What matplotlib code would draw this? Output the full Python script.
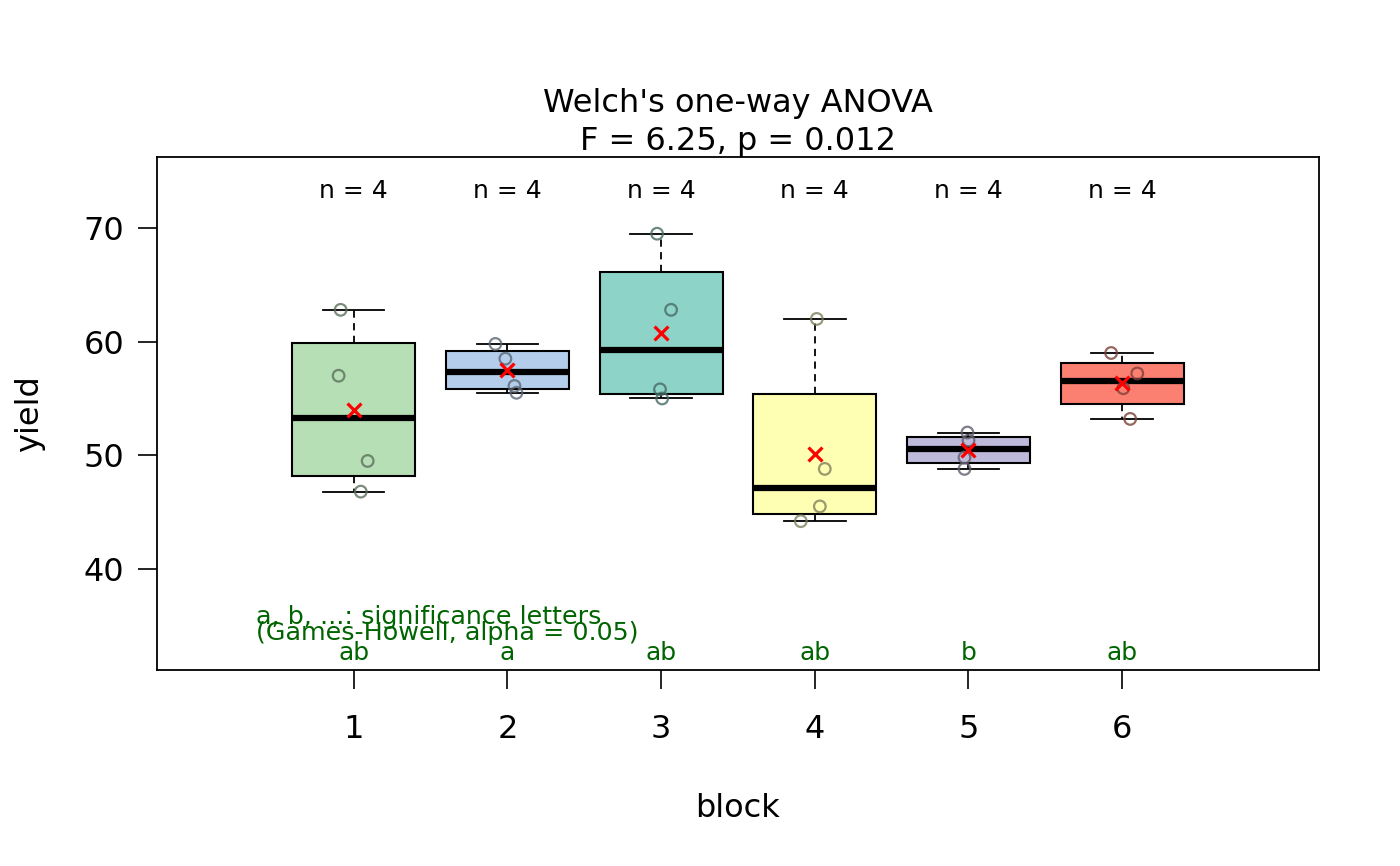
import numpy as np
import matplotlib
matplotlib.use("Agg")
import matplotlib.pyplot as plt
from matplotlib.colors import to_rgb

# data
blocks = ["1", "2", "3", "4", "5", "6"]
yield_1 = [62.8, 57.0, 49.5, 46.8]
yield_2 = [59.8, 58.5, 56.1, 55.5]
yield_3 = [69.5, 62.8, 55.8, 55.0]
yield_4 = [62.0, 48.8, 45.5, 44.2]
yield_5 = [52.0, 51.3, 49.8, 48.8]
yield_6 = [59.0, 57.2, 55.9, 53.2]
jitter = [[-0.085, -0.098, 0.091, 0.046],
          [-0.078, -0.013, 0.046, 0.059],
          [-0.026, 0.065, -0.007, 0.007],
          [0.013, 0.065, 0.033, -0.091],
          [-0.007, 0.000, -0.026, -0.026],
          [-0.072, 0.098, 0.007, 0.052]]
letters = ["ab", "a", "ab", "ab", "b", "ab"]
box_colors = ["#B6DFB6", "#B3CDEB", "#8DD3C7", "#FFFFB3", "#BEBADA", "#FB8072"]

groups = [yield_1, yield_2, yield_3, yield_4, yield_5, yield_6]


def fivenum(v):
    v = np.sort(np.asarray(v, float))
    n = len(v)
    n4 = np.floor((n + 3) / 2) / 2
    d = np.array([1, n4, (n + 1) / 2, n + 1 - n4, n]) - 1
    return 0.5 * (v[np.floor(d).astype(int)] + v[np.ceil(d).astype(int)])


stats = []
for g, lab in zip(groups, blocks):
    f = fivenum(g)
    stats.append(dict(whislo=f[0], q1=f[1], med=f[2], q3=f[3], whishi=f[4],
                      fliers=[], label=lab))

fig = plt.figure(figsize=(14, 8.66), dpi=100)
ax = fig.add_axes([0.1121, 0.2263, 0.83, 0.5924])

pos = np.arange(1, len(blocks) + 1)
bp = ax.bxp(stats, positions=pos, widths=0.8, capwidths=0.4, patch_artist=True,
            boxprops=dict(linewidth=1.5, edgecolor="black"),
            whiskerprops=dict(linestyle=(0, (4, 3)), linewidth=1.3, color="black"),
            capprops=dict(linewidth=1.3, color="black"),
            medianprops=dict(linewidth=4.5, color="black", solid_capstyle="butt"),
            showfliers=False, manage_ticks=False)
for patch, c in zip(bp["boxes"], box_colors):
    patch.set_facecolor(c)

for i, (g, c) in enumerate(zip(groups, box_colors)):
    dark = tuple(0.5 * np.array(to_rgb(c)))
    ax.scatter(pos[i] + np.array(jitter[i]), g, s=70, facecolors="none",
               edgecolors=[dark], linewidths=1.6, alpha=0.8, zorder=3)
    ax.scatter(pos[i], np.mean(g), marker="x", s=100, color="red",
               linewidths=2.3, zorder=4)
    ax.text(pos[i], 73.26, "n = %d" % len(g), ha="center", va="center", fontsize=18)
    ax.text(pos[i], 32.6, letters[i], ha="center", va="center", fontsize=18,
            color="darkgreen")

ax.text(0.362, 35.78, "a, b, ...: significance letters", ha="left", va="center",
        fontsize=18.3, color="darkgreen")
ax.text(0.362, 34.37, "(Games-Howell, alpha = 0.05)", ha="left", va="center",
        fontsize=18.3, color="darkgreen")

ax.set_xlim(-0.28, 7.28)
ax.set_ylim(31.1, 76.25)
ax.set_xticks(pos)
ax.set_xticklabels(blocks)
ax.set_yticks([40, 50, 60, 70])
ax.tick_params(axis="both", length=13.5, width=1.2, labelsize=23)
ax.tick_params(axis="x", pad=18)
ax.tick_params(axis="y", pad=10)
for s in ax.spines.values():
    s.set_linewidth(1.3)

ax.set_xlabel("block", fontsize=23, labelpad=35)
ax.set_ylabel("yield", fontsize=23, labelpad=28)
ax.set_title("Welch's one-way ANOVA\nF = 6.25, p = 0.012", fontsize=23, pad=5,
             linespacing=1.3)

fig.savefig("out.png", dpi=100)
